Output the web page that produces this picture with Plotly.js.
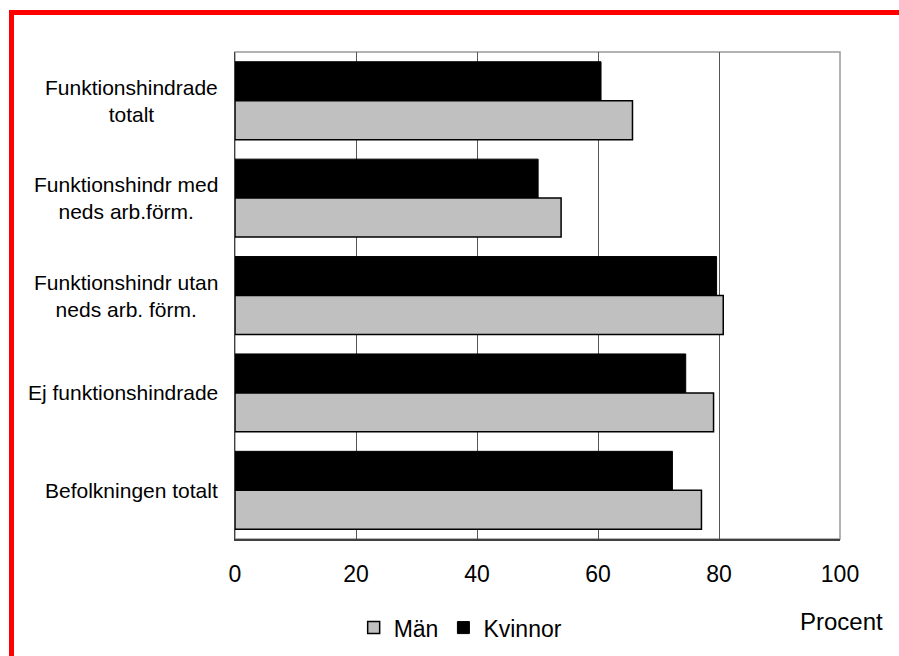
<!DOCTYPE html>
<html>
<head>
<meta charset="utf-8">
<script src="https://cdn.plot.ly/plotly-3.0.1.min.js"></script>
<style>
  html, body { margin:0; padding:0; background:#fff; }
  #frame { position:absolute; left:9px; top:10px; width:890px; height:646px;
           border-left:5px solid #ff0000; border-top:5px solid #ff0000; box-sizing:border-box; }
  #chart { position:absolute; left:0; top:0; width:899px; height:656px; }
</style>
</head>
<body>
<div id="frame"></div>
<div id="chart"></div>
<script>
const categories = [
  "Funktionshindrade<br>totalt",
  "Funktionshindr med<br>neds arb.förm.",
  "Funktionshindr utan<br>neds arb. förm.",
  "Ej funktionshindrade",
  "Befolkningen totalt"
];
const kvinnor = [60.5, 50.1, 79.6, 74.5, 72.3];
const man = [65.7, 53.9, 80.7, 79.1, 77.1];
const xTicks = [0, 20, 40, 60, 80, 100];

const FONT = "Liberation Sans, Arial, sans-serif";

const traces = [
  {
    type: "bar", orientation: "h", name: "Kvinnor",
    y: categories, x: kvinnor,
    marker: { color: "#000000", line: { color: "#000000", width: 1 } }
  },
  {
    type: "bar", orientation: "h", name: "Män",
    y: categories, x: man,
    marker: { color: "#c0c0c0", line: { color: "#000000", width: 1.5 } }
  }
];

const annotations = categories.map(c => ({
  xref: "paper", yref: "y", x: -0.025, y: c,
  text: c, showarrow: false, xanchor: "right", yanchor: "middle", align: "center",
  font: { family: FONT, size: 21, color: "#000" }
}));
annotations.push({
  xref: "paper", yref: "paper", x: 1.075, y: -0.17,
  text: "Procent", showarrow: false, xanchor: "right", yanchor: "middle",
  font: { family: FONT, size: 24, color: "#000" }
});

const layout = {
  width: 899, height: 656,
  margin: { l: 235, r: 59, t: 52, b: 117, autoexpand: false },
  paper_bgcolor: "rgba(0,0,0,0)",
  plot_bgcolor: "#ffffff",
  barmode: "group", bargap: 0.2, bargroupgap: 0,
  showlegend: true,
  legend: {
    orientation: "h", x: 0.373, xanchor: "center", y: -0.182, yanchor: "middle",
    traceorder: "reversed", font: { family: FONT, size: 23, color: "#000" },
    itemwidth: 30, bgcolor: "rgba(0,0,0,0)"
  },
  xaxis: {
    range: [0, 100], tickvals: xTicks, ticktext: xTicks.map(String),
    showgrid: true, gridcolor: "#555555", gridwidth: 1,
    zeroline: false, showline: true, linecolor: "#404040", linewidth: 1.5,
    ticks: "", ticklabelstandoff: 14,
    tickfont: { family: FONT, size: 23, color: "#000" },
    fixedrange: true
  },
  yaxis: {
    type: "category", autorange: "reversed",
    showticklabels: false, showgrid: false, zeroline: false,
    showline: true, linecolor: "#404040", linewidth: 1.5, ticks: "",
    fixedrange: true
  },
  shapes: [{
    type: "rect", xref: "paper", yref: "paper", x0: 0, x1: 1, y0: 0, y1: 1,
    line: { color: "#999999", width: 1.5 }, layer: "below"
  }],
  annotations: annotations
};

Plotly.newPlot("chart", traces, layout, { displayModeBar: false, staticPlot: true });
</script>
</body>
</html>
